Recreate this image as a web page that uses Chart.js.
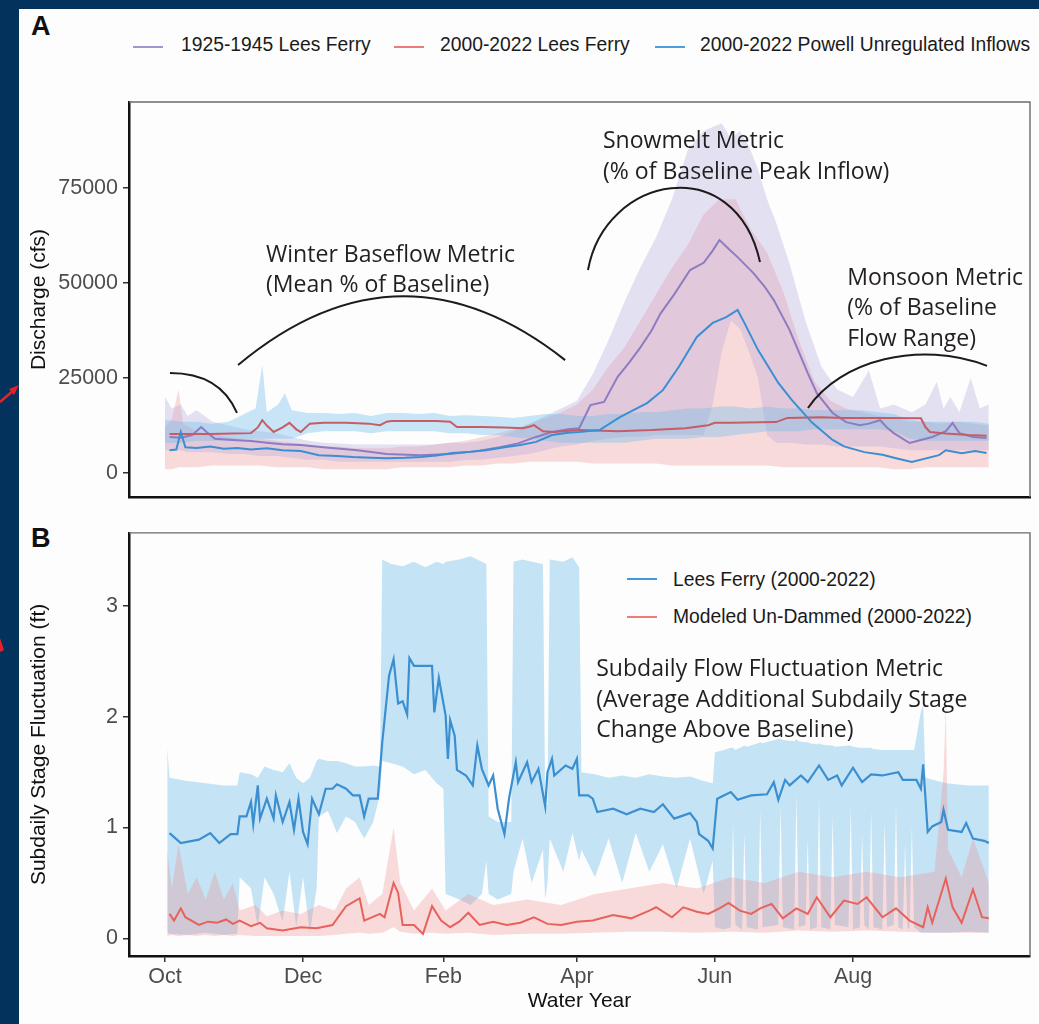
<!DOCTYPE html>
<html>
<head>
<meta charset="utf-8">
<title>Lees Ferry flow metrics</title>
<script src="https://cdn.jsdelivr.net/npm/chart.js@4.4.1/dist/chart.umd.min.js"></script>
<style>
  html, body { margin:0; padding:0; }
  body { width:1039px; height:1024px; position:relative; overflow:hidden; background:#03335d; font-family:"Liberation Sans", Arial, sans-serif; }
  #paper { position:absolute; left:19px; top:9px; width:1020px; height:1015px; background:#fdfdfd; }
  canvas { position:absolute; }
  #cA { left:20px; top:60px; }
  #cB { left:20px; top:515px; }
  .panel { position:absolute; font-weight:bold; font-size:27px; line-height:1; color:#111; }
  .leg { position:absolute; font-size:19.3px; line-height:1; color:#1a1a1a; white-space:nowrap; }
  .key { position:absolute; width:30px; height:2.4px; }
  svg { position:absolute; left:0; top:0; }
</style>
</head>
<body>
<div id="paper"></div>
<svg width="24" height="1024">
  <line x1="0" y1="402" x2="14" y2="390" stroke="#e8202a" stroke-width="2.5"/>
  <polygon points="19,385 9,389 14,395" fill="#e8202a"/>
  <polygon points="0,638 4,650 0,652" fill="#e8202a"/>
</svg>
<div class="panel" style="left:31px;top:13px">A</div>
<div class="panel" style="left:31px;top:525px">B</div>

<div class="key" style="left:133px;top:46px;background:#9d97d2"></div>
<div class="leg" style="left:181px;top:35px">1925-1945 Lees Ferry</div>
<div class="key" style="left:394px;top:46px;background:#ee7a78"></div>
<div class="leg" style="left:440px;top:35px">2000-2022 Lees Ferry</div>
<div class="key" style="left:655px;top:46px;background:#4a9fdc"></div>
<div class="leg" style="left:700px;top:35px">2000-2022 Powell Unregulated Inflows</div>

<div class="key" style="left:627px;top:578px;background:#4199da"></div>
<div class="leg" style="left:673px;top:570px">Lees Ferry (2000-2022)</div>
<div class="key" style="left:627px;top:616px;background:#f07c78"></div>
<div class="leg" style="left:673px;top:607px">Modeled Un-Dammed (2000-2022)</div>

<canvas id="cA" width="1019" height="455"></canvas>
<canvas id="cB" width="1019" height="509"></canvas>

<script>
// ---------------- axis ticks ----------------
const monthTickDays = [0, 61, 123, 182, 243, 304];
const monthTickLabels = ['Oct', 'Dec', 'Feb', 'Apr', 'Jun', 'Aug'];
const aYTicks = [0, 25000, 50000, 75000];
const bYTicks = [0, 1, 2, 3];

// ---------------- Panel A: mean lines (day of water year, cfs) ----------------
const aHistDays = [2,7,12,16,19,22,30,38,45,52,60,70,85,98,113,126,137,148,156,164,171,178,183,188,194,200,205,210,215,219,225,232,238,242,245,249,253,260,265,269,276,284,288,295,301,307,311,316,319,322,329,334,339,345,348,351,357,363];
const aHistMean = [9500,9300,10000,12100,10500,9000,8700,8400,8000,7600,7400,6800,6000,5000,4700,5000,5700,6800,7800,9500,10800,11500,11800,17900,18700,25300,29000,33000,37500,42000,47000,53400,55300,58500,61300,59000,56800,52600,49000,45500,37600,26300,21000,15800,13400,12600,13000,13900,12000,10500,7900,8700,9500,11000,13200,10500,9500,9200];

const aLfDays = [2,10,20,30,38,41,43,45,48,52,55,58,60,64,70,80,90,95,98,100,110,120,126,129,140,150,158,161,163,167,172,183,200,215,230,240,243,250,270,275,290,300,320,334,336,338,345,355,363];
const aLfMean = [10300,10300,10300,10400,10500,12000,13900,12500,10800,12000,13200,11500,10800,13000,13200,13200,13000,12600,13500,13700,13700,13700,13500,12100,12100,12000,11800,12200,12600,11000,10800,11300,11000,11300,11800,12600,13200,13200,13400,14500,14700,14500,14500,14400,12100,10800,10400,10000,9800];

const aPwDays = [2,5,7,9,14,20,26,32,38,45,52,60,68,76,83,91,98,106,113,120,127,135,142,150,157,164,171,178,183,192,201,213,220,227,235,242,248,253,256,262,271,277,286,295,300,309,317,323,330,342,345,352,358,363];
const aPwMean = [6000,6200,10800,6800,6600,7000,6400,6600,6200,6500,6000,5800,4700,4500,4200,4000,3900,4000,4200,4600,5300,5600,6000,6800,7400,8200,10000,10600,10800,11300,14700,18400,21800,27900,35800,39500,41000,42900,39500,32400,23700,19200,13200,8700,7000,5500,4800,3900,2900,4700,6000,5200,5800,5300];

// ---------------- Panel A: ranges ----------------
const aLfBandDays = [0,7,14,21,28,35,40,43,45,50,53,56,63,70,77,84,91,98,105,112,119,126,133,140,147,154,161,168,175,182,189,196,203,210,217,224,231,238,245,252,259,266,273,280,287,294,301,308,315,322,329,336,343,350,357,364];
const aLfLow  = [8000,8000,8500,8500,8500,9000,9000,9000,9000,9000,9000,9000,10500,11000,11000,11000,10500,11000,11000,11000,11000,10500,10500,10000,10000,9500,9000,8500,8000,8000,8000,8000,8000,8500,9000,9000,9000,9500,9500,10000,10500,11000,11000,11000,11500,11500,11500,11500,11500,11000,9000,8500,8500,8500,8500,8500];
const aLfHigh = [14000,13500,13500,13000,13500,15500,17000,28400,16000,18000,21000,16500,15800,15800,15500,15800,15000,15800,15800,15500,15800,15000,15200,15000,14800,14500,15000,15500,15500,15000,15000,15500,15500,16000,16000,16500,17000,17000,17500,17500,17000,17500,17000,17000,16500,16500,16500,16500,16000,15500,14000,13500,13500,13500,13500,13000];

const aHistBandDays = [0,3,7,10,14,21,28,35,42,49,56,63,70,77,84,91,98,105,112,119,126,133,140,147,154,161,168,175,182,189,196,203,210,217,224,231,238,242,246,250,254,258,262,266,270,276,283,290,297,304,311,316,322,330,336,341,344,347,351,356,360,364];
const aHistLow  = [6000,6000,6000,5500,5500,5500,5000,5000,4500,4500,4000,3500,3500,3000,3000,3000,3000,3000,3000,3000,3000,3500,3500,4000,4500,5000,6000,7000,7500,8500,9000,9500,9500,10000,10000,10000,10000,18000,32000,40000,38000,32000,25000,10000,8000,8000,7500,7500,7000,7000,7000,7000,6500,6000,6000,6000,6000,6000,6000,6000,6000,6000];
const aHistHigh = [20000,17000,18000,15000,16500,13500,12500,11500,11000,10500,9500,8500,8000,7800,7500,7500,7500,7500,7500,7500,8000,8000,8500,9500,11000,13000,15000,17000,19000,26000,35000,45000,54000,62000,72000,85000,90000,91000,92000,88000,90000,86000,80000,72000,66000,55000,40000,28000,22000,20000,27000,17000,18000,16000,18000,24000,17000,20000,16000,25000,17000,18000];

const aPwBandDays = [0,3,6,8,14,21,28,35,42,49,56,63,70,77,84,91,98,105,112,119,126,133,140,147,154,161,168,175,182,189,196,203,210,217,224,231,238,245,252,259,266,273,280,287,294,301,308,315,322,329,336,343,350,357,364];
const aPwLow  = [1000,1000,1500,1500,1500,2000,2000,2000,2000,1500,1500,1500,1000,1000,1000,1000,1000,1500,1500,1500,1500,2000,2000,2500,2500,3000,3000,3000,3000,2500,2500,2500,2500,2500,2000,2000,2000,2000,2000,2000,2000,1500,1500,1500,1500,1500,1500,1500,1000,1000,1500,1500,1500,1500,1500];
const aPwHigh = [12000,14000,22000,13000,11000,10000,9500,9000,9000,8500,8000,7500,7000,7000,6500,6500,6500,7000,7000,7500,8000,8500,9500,10500,11500,13000,14500,16000,18000,22000,28000,33000,40000,47000,54000,60000,68000,72000,72000,64000,58000,48000,35000,24000,19000,17000,16000,15000,14500,13500,13500,13000,13500,13000,12500];

// ---------------- Panel B: lines (ft) ----------------
const bLfDays = [2,7,15,20,24,29,32,33,36,38,39,41,42,45,48,49,52,55,57,59,61,63,65,68,71,74,76,80,83,86,88,90,94,96,99,101,103,105,107,108,110,116,118,119,121,124,125,126,128,129,133,136,138,140,143,145,147,150,152,155,156,160,162,165,168,169,171,172,177,180,182,183,187,189,191,198,204,210,216,220,225,232,235,236,240,242,244,250,253,259,266,269,271,274,276,281,284,289,293,297,299,304,308,312,317,324,326,332,334,335,337,339,343,344,346,352,354,357,362,364];
const bLfVals = [0.95,0.86,0.89,0.95,0.86,0.94,0.94,1.10,1.10,1.23,1.03,1.38,1.08,1.26,1.08,1.29,1.05,1.23,0.98,1.26,0.96,0.85,1.26,1.12,1.35,1.35,1.39,1.35,1.29,1.29,1.10,1.26,1.26,1.77,2.37,2.52,2.12,2.14,2.02,2.53,2.46,2.46,2.46,2.04,2.35,2.01,1.62,1.97,1.83,1.52,1.47,1.38,1.74,1.53,1.38,1.47,1.17,0.94,1.26,1.59,1.41,1.59,1.41,1.53,1.19,1.50,1.62,1.47,1.56,1.53,1.62,1.29,1.29,1.26,1.14,1.17,1.12,1.17,1.14,1.21,1.08,1.13,1.05,0.94,0.88,0.81,1.26,1.32,1.25,1.29,1.30,1.41,1.25,1.43,1.38,1.47,1.41,1.56,1.43,1.47,1.38,1.54,1.41,1.48,1.47,1.50,1.43,1.43,1.35,1.57,0.96,1.01,1.05,1.16,0.98,0.96,1.04,0.90,0.88,0.86];

const bUdDays = [2,4,7,9,15,19,23,27,30,33,38,42,45,52,60,67,74,80,86,88,95,97,101,103,105,110,114,118,122,126,130,134,139,145,151,157,163,169,175,182,189,198,206,214,217,224,229,235,240,245,249,254,259,263,268,273,279,284,288,294,300,306,310,317,323,329,335,337,339,345,348,352,357,361,364];
const bUdVals = [0.22,0.16,0.27,0.19,0.12,0.15,0.14,0.17,0.13,0.16,0.11,0.14,0.09,0.07,0.10,0.09,0.12,0.29,0.36,0.16,0.22,0.19,0.50,0.41,0.12,0.12,0.04,0.29,0.16,0.10,0.15,0.23,0.12,0.15,0.12,0.14,0.19,0.13,0.12,0.15,0.16,0.21,0.18,0.25,0.28,0.19,0.28,0.24,0.22,0.27,0.32,0.25,0.22,0.27,0.31,0.18,0.27,0.22,0.37,0.19,0.34,0.31,0.37,0.19,0.27,0.16,0.10,0.28,0.14,0.54,0.28,0.14,0.44,0.19,0.18];

// ---------------- Panel B: ranges ----------------
const bLfBandDays = [1,2,10,18,26,32,33,38,41,44,48,52,55,58,61,64,67,68,72,76,80,84,88,92,95,96,100,105,110,115,120,123,124,130,135,140,142,143,147,153,154,158,162,167,168,169,170,176,180,183,184,190,196,202,208,214,220,226,232,238,242,243,247,250,251,252,255,256,257,262,263,264,271,272,273,278,279,280,283,284,285,288,289,290,294,295,296,302,303,304,307,308,309,311,312,313,317,318,319,322,323,324,326,327,328,329,330,331,334,335,336,345,355,364];
const bLfHigh = [1.72,1.45,1.42,1.40,1.38,1.38,1.50,1.48,1.45,1.55,1.52,1.50,1.58,1.45,1.40,1.45,1.60,1.62,1.60,1.60,1.58,1.55,1.55,1.56,1.55,3.42,3.38,3.36,3.40,3.35,3.40,3.38,3.40,3.42,3.45,3.40,3.38,1.10,1.05,1.05,3.40,3.42,3.40,3.38,1.20,1.20,3.42,3.40,3.44,3.35,1.50,1.48,1.45,1.47,1.45,1.48,1.46,1.45,1.46,1.42,1.40,1.68,1.70,1.72,1.72,1.70,1.73,1.74,1.73,1.76,1.77,1.76,1.80,1.80,1.79,1.78,1.80,1.78,1.77,1.77,1.76,1.75,1.76,1.75,1.74,1.74,1.73,1.74,1.74,1.73,1.72,1.72,1.72,1.72,1.72,1.71,1.70,1.70,1.70,1.70,1.70,1.70,1.70,1.70,1.70,1.70,1.70,1.70,2.05,2.10,1.45,1.40,1.38,1.38];
const bLfLow  = [0.05,0.04,0.03,0.05,0.03,0.04,0.55,0.45,0.10,0.55,0.40,0.15,0.60,0.10,0.55,0.05,0.45,1.10,1.15,0.95,1.10,1.05,0.90,1.05,1.30,1.60,1.58,1.55,1.48,1.52,1.40,1.35,0.40,0.35,0.30,0.40,0.70,0.40,0.35,0.40,0.60,0.90,0.50,0.80,0.35,0.50,0.90,0.60,0.95,0.70,0.80,0.55,0.90,0.50,0.95,0.60,0.85,0.45,0.90,0.40,0.70,0.10,0.08,0.10,1.05,0.12,0.08,0.95,0.10,0.08,1.15,0.10,0.12,1.20,0.10,0.08,1.30,0.10,0.12,0.90,0.08,0.10,1.25,0.10,0.08,1.10,0.12,0.10,1.20,0.08,0.10,0.95,0.12,0.08,1.15,0.10,0.08,1.05,0.10,0.12,1.20,0.10,0.08,0.85,0.10,0.08,1.00,0.10,0.05,0.05,0.05,0.05,0.06,0.05];

const bUdBandDays = [1,3,6,10,14,18,22,26,30,33,40,45,52,60,68,75,80,86,90,96,101,104,110,118,124,134,145,160,175,190,205,220,235,250,265,280,295,310,325,340,344,345,346,352,357,364];
const bUdLow  = [0.02,0.03,0.02,0.03,0.02,0.03,0.02,0.03,0.02,0.03,0.02,0.02,0.02,0.02,0.02,0.03,0.04,0.05,0.04,0.05,0.10,0.06,0.04,0.05,0.04,0.05,0.03,0.04,0.04,0.05,0.06,0.06,0.05,0.06,0.05,0.07,0.06,0.07,0.06,0.05,0.05,0.05,0.05,0.05,0.05,0.05];
const bUdHigh = [0.80,0.45,0.85,0.40,0.55,0.35,0.60,0.35,0.50,0.25,0.30,0.20,0.25,0.22,0.30,0.25,0.45,0.55,0.30,0.40,1.00,0.50,0.25,0.45,0.25,0.40,0.30,0.35,0.30,0.40,0.45,0.50,0.45,0.55,0.50,0.60,0.55,0.60,0.55,0.60,1.50,2.10,0.80,0.55,0.90,0.50];

// ---------------- annotations (data coordinates) ----------------
const notesA = [
  { day: 44.6,  value: 55530, lines: ['Winter Baseflow Metric', '(Mean % of Baseline)'] },
  { day: 193.5, value: 85400, lines: ['Snowmelt Metric', '(% of Baseline Peak Inflow)'] },
  { day: 301.4, value: 49470, lines: ['Monsoon Metric', '(% of Baseline', 'Flow Range)'] }
];
const arcsA = [
  [[2.2, 26300], [24.3, 26300], [31.8, 15800]],
  [[32.3, 28400], [103.8, 63900], [176.8, 29700]],
  [[186.9, 53400], [194.4, 78400], [251.9, 85000], [262.9, 55500]],
  [[284.1, 17100], [298.3, 29700], [333.6, 35000], [363.2, 28200]]
];
const notesB = [
  { day: 190.5, value: 2.366, lines: ['Subdaily Flow Fluctuation Metric', '(Average Additional Subdaily Stage', 'Change Above Baseline)'] }
];
const arcsB = [];

// ---------------- rendering ----------------
const SANS = '"Liberation Sans", Arial, Helvetica, sans-serif';
Chart.defaults.font.family = SANS;

const pts = (xs, ys) => xs.map((x, i) => ({ x: x, y: ys[i] }));
function lineDs(label, xs, ys, color, width, order) {
  return { label, data: pts(xs, ys), borderColor: color, borderWidth: width, pointRadius: 0, fill: false, tension: 0, order };
}
function hiDs(label, xs, ys, color, target, order) {
  return { label, data: pts(xs, ys), borderColor: 'rgba(0,0,0,0)', borderWidth: 0, pointRadius: 0, tension: 0,
           backgroundColor: color, fill: { target: target, above: color, below: color }, order };
}
function loDs(label, xs, ys, order) {
  return { label, data: pts(xs, ys), borderColor: 'rgba(0,0,0,0)', borderWidth: 0, pointRadius: 0, tension: 0, fill: false, order };
}

function notesPlugin(notes, arcs) {
  return {
    id: 'notes',
    afterDatasetsDraw(chart) {
      const ctx = chart.ctx, xs = chart.scales.x, ys = chart.scales.y;
      const ca = chart.chartArea;
      ctx.save();
      ctx.strokeStyle = '#6a6a6a'; ctx.lineWidth = 1.4;
      ctx.beginPath(); ctx.moveTo(ca.left, ca.top); ctx.lineTo(ca.right, ca.top); ctx.lineTo(ca.right, ca.bottom); ctx.stroke();
      ctx.strokeStyle = '#1c1a1a'; ctx.lineWidth = 2;
      arcs.forEach(a => {
        const p = a.map(q => [xs.getPixelForValue(q[0]), ys.getPixelForValue(q[1])]);
        ctx.beginPath(); ctx.moveTo(p[0][0], p[0][1]);
        if (p.length === 3) ctx.quadraticCurveTo(p[1][0], p[1][1], p[2][0], p[2][1]);
        else ctx.bezierCurveTo(p[1][0], p[1][1], p[2][0], p[2][1], p[3][0], p[3][1]);
        ctx.stroke();
      });
      ctx.font = '23px "Open Sans", "Noto Sans", sans-serif';
      const sx = 347 / ctx.measureText('Subdaily Flow Fluctuation Metric').width;
      ctx.fillStyle = '#231f20'; ctx.textBaseline = 'alphabetic'; ctx.textAlign = 'left';
      notes.forEach(n => {
        const x = xs.getPixelForValue(n.day), y = ys.getPixelForValue(n.value);
        n.lines.forEach((t, i) => {
          ctx.save(); ctx.translate(x, y + i * 30.5); ctx.scale(sx, 1); ctx.fillText(t, 0, 0); ctx.restore();
        });
      });
      ctx.restore();
    }
  };
}

const tickFont = { family: SANS, size: 21.5 };
const titleFont = { family: SANS, size: 21 };
const axisBorder = { display: true, color: '#111', width: 2.5 };
const tickGrid = { display: true, drawOnChartArea: false, drawTicks: true, tickLength: 6, color: '#333', lineWidth: 1.5 };

new Chart(document.getElementById('cA'), {
  type: 'line',
  data: { datasets: [
    lineDs('1925-1945 Lees Ferry', aHistDays, aHistMean, '#8d7cc1', 2, 2),
    lineDs('2000-2022 Lees Ferry', aLfDays, aLfMean, '#c65c66', 2, 1),
    lineDs('2000-2022 Powell Unregulated Inflows', aPwDays, aPwMean, '#3a8fd2', 2, 0),
    hiDs('Lees Ferry range high', aLfBandDays, aLfHigh, 'rgba(110,190,235,0.38)', 4, 3),
    loDs('Lees Ferry range low', aLfBandDays, aLfLow, 3),
    hiDs('1925-1945 range high', aHistBandDays, aHistHigh, 'rgba(160,150,215,0.28)', 6, 4),
    loDs('1925-1945 range low', aHistBandDays, aHistLow, 4),
    hiDs('Powell range high', aPwBandDays, aPwHigh, 'rgba(240,140,140,0.30)', 8, 5),
    loDs('Powell range low', aPwBandDays, aPwLow, 5)
  ]},
  options: {
    responsive: false, animation: false, events: [],
    layout: { padding: { left: 0, right: 9, top: 42, bottom: 18 } },
    plugins: { legend: { display: false }, tooltip: { enabled: false } },
    scales: {
      x: { type: 'linear', min: -15.9, max: 382.2, ticks: { display: false }, grid: { display: false },
           border: axisBorder, afterFit(s) { s.height = 0; } },
      y: { type: 'linear', min: -6300, max: 97600,
           afterBuildTicks(s) { s.ticks = aYTicks.map(v => ({ value: v })); },
           ticks: { color: '#4d4d4d', font: tickFont, padding: 5, callback: v => String(v) },
           grid: tickGrid, border: axisBorder,
           title: { display: true, text: 'Discharge (cfs)', color: '#111', font: titleFont, padding: { top: 7, bottom: 0 } },
           afterFit(s) { s.width = 109; } }
    }
  },
  plugins: [notesPlugin(notesA, arcsA)]
});

new Chart(document.getElementById('cB'), {
  type: 'line',
  data: { datasets: [
    lineDs('Lees Ferry (2000-2022)', bLfDays, bLfVals, '#3b8fd1', 2.2, 1),
    lineDs('Modeled Un-Dammed (2000-2022)', bUdDays, bUdVals, '#e8625c', 2, 0),
    hiDs('Lees Ferry range high', bLfBandDays, bLfHigh, 'rgba(110,190,235,0.40)', 3, 4),
    loDs('Lees Ferry range low', bLfBandDays, bLfLow, 4),
    hiDs('Un-dammed range high', bUdBandDays, bUdHigh, 'rgba(240,130,130,0.28)', 5, 3),
    loDs('Un-dammed range low', bUdBandDays, bUdLow, 3)
  ]},
  options: {
    responsive: false, animation: false, events: [],
    layout: { padding: { left: 0, right: 9, top: 13, bottom: 0 } },
    plugins: { legend: { display: false }, tooltip: { enabled: false } },
    scales: {
      x: { type: 'linear', min: -15.9, max: 382.2,
           afterBuildTicks(s) { s.ticks = monthTickDays.map(v => ({ value: v })); },
           ticks: { color: '#4d4d4d', font: tickFont, padding: 2, autoSkip: false, maxRotation: 0,
                    callback: (v, i) => monthTickLabels[i] },
           grid: tickGrid, border: axisBorder,
           title: { display: true, text: 'Water Year', color: '#111', font: titleFont, padding: { top: 0, bottom: 10 } },
           afterFit(s) { s.height = 68; } },
      y: { type: 'linear', min: -0.16, max: 3.66,
           afterBuildTicks(s) { s.ticks = bYTicks.map(v => ({ value: v })); },
           ticks: { color: '#4d4d4d', font: tickFont, padding: 5, callback: v => String(v) },
           grid: tickGrid, border: axisBorder,
           title: { display: true, text: 'Subdaily Stage Fluctuation (ft)', color: '#111', font: titleFont, padding: { top: 7, bottom: 0 } },
           afterFit(s) { s.width = 109; } }
    }
  },
  plugins: [notesPlugin(notesB, arcsB)]
});
</script>
</body>
</html>
